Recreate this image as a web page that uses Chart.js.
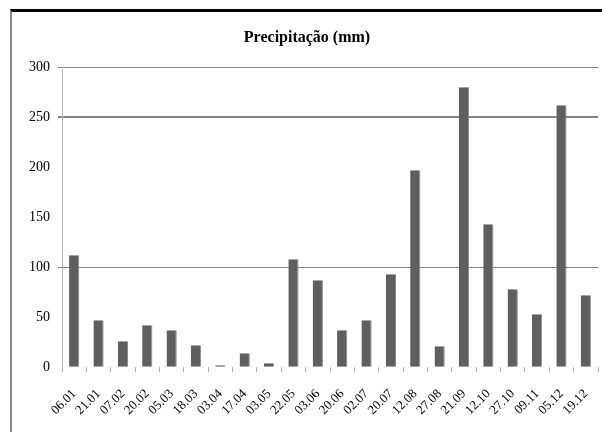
<!DOCTYPE html>
<html lang="pt">
<head>
    <meta charset="UTF-8">
    <title>Precipitação (mm)</title>
    <script src="https://cdn.jsdelivr.net/npm/chart.js"></script>
    <style>
        body {
            margin: 0;
            background: #fff;
        }
        .frame {
            position: absolute;
            left: 10px;
            top: 9px;
            width: 590px;
            height: 420px;
            border-top: 3px solid #000;
            border-left: 2px solid #8a8a8a;
        }
    </style>
</head>
<body>

    <div class="frame">
        <canvas id="rainChart" width="590" height="420"></canvas>
    </div>

    <script>
        const dates = ["06.01", "21.01", "07.02", "20.02", "05.03", "18.03", "03.04", "17.04", "03.05", "22.05", "03.06",
                       "20.06", "02.07", "20.07", "12.08", "27.08", "21.09", "12.10", "27.10", "09.11", "05.12", "19.12"];
        const rainMm = [112, 47, 26, 42, 37, 22, 2, 14, 4, 108, 87,
                        37, 47, 93, 197, 21, 280, 143, 78, 53, 262, 72];
        const yTicks = [0, 50, 100, 150, 200, 250, 300];
        // only these gridlines survive in the scanned original
        const shownGrid = [100, 250, 300];

        const ctx = document.getElementById("rainChart").getContext("2d");
        new Chart(ctx, {
            type: "bar",
            data: {
                labels: dates,
                datasets: [{
                    label: "Precipitação (mm)",
                    data: rainMm,
                    backgroundColor: "#5f5f5f",
                    borderColor: "#8c8c8c",
                    borderWidth: { right: 1 },
                    barPercentage: 0.42,
                    categoryPercentage: 1.0
                }]
            },
            options: {
                responsive: false,
                animation: false,
                layout: {
                    padding: { left: 4, right: 4, top: 0, bottom: 0 }
                },
                plugins: {
                    legend: { display: false },
                    tooltip: { enabled: false },
                    title: {
                        display: true,
                        text: "Precipitação (mm)",
                        color: "#000",
                        font: { family: "Liberation Serif", size: 16, weight: "bold" },
                        padding: { top: 16, bottom: 20 }
                    }
                },
                scales: {
                    x: {
                        afterFit: axis => {
                            axis.paddingLeft = 0;
                            axis.paddingRight = 0;
                        },
                        border: { display: false },
                        grid: {
                            drawOnChartArea: false,
                            drawTicks: true,
                            tickLength: 5,
                            color: "#b5b5b5"
                        },
                        ticks: {
                            color: "#000",
                            autoSkip: false,
                            minRotation: 45,
                            maxRotation: 45,
                            padding: 14,
                            font: { family: "Liberation Serif", size: 13 }
                        }
                    },
                    y: {
                        min: 0,
                        max: 300,
                        afterBuildTicks: axis => {
                            axis.ticks = yTicks.map(v => ({ value: v }));
                        },
                        afterFit: axis => {
                            axis.width = 46;
                        },
                        border: { display: true, color: "#b5b5b5" },
                        grid: {
                            tickLength: 4,
                            color: c => shownGrid.includes(c.tick.value) ? "#858585" : "rgba(0,0,0,0)",
                            lineWidth: c => c.tick.value === 250 ? 2 : 1
                        },
                        ticks: {
                            color: "#000",
                            padding: 8,
                            font: { family: "Liberation Serif", size: 14 }
                        }
                    }
                }
            }
        });
    </script>

</body>
</html>
